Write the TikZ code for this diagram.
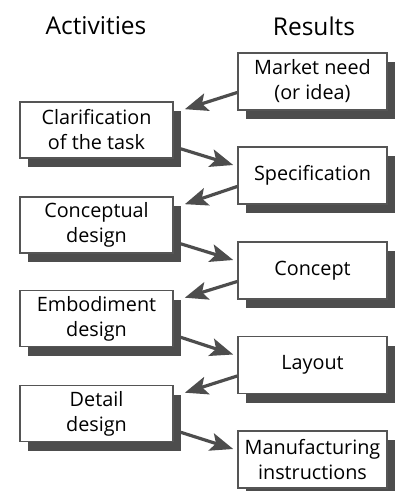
\documentclass[tikz,border=0pt]{standalone}
\usepackage{fontspec}
\setmainfont{Open Sans}
\usetikzlibrary{arrows.meta,shadows}
\definecolor{edgegray}{HTML}{555555}
\definecolor{shadegray}{HTML}{4D4D4D}
\tikzset{
  box/.style={draw=edgegray, line width=1.6pt, fill=white, align=center,
    inner sep=0pt, font=\fontsize{19.8}{25}\selectfont,
    drop shadow={shadow xshift=8pt, shadow yshift=-9pt, fill=shadegray, opacity=1}},
  actbox/.style={box, minimum width=153pt, minimum height=56pt},
  resbox/.style={box, minimum width=149pt, minimum height=57pt},
  flow/.style={draw=shadegray, line width=3.2pt,
    -{Stealth[length=23pt, width=18pt, inset=5pt]}},
  heading/.style={font=\fontsize{24.5}{28}\selectfont}
}
\begin{document}
\begin{tikzpicture}[x=1pt, y=-1pt]
  \useasboundingbox (0,0) rectangle (395,491);

  % column headings
  \node[heading] (hact) at (96,26) {Activities};
  \node[heading] (hres) at (314,26) {Results};

  % results column
  \node[resbox] (need)  at (312.5,81.5)  {Market need\\(or idea)};
  \node[resbox] (spec)  at (312.5,175.5) {Specification};
  \node[resbox] (conc)  at (312.5,270.5) {Concept};
  \node[resbox] (lay)   at (312.5,365)   {Layout};
  \node[resbox] (manu)  at (312.5,459.5) {Manufacturing\\instructions};

  % activities column
  \node[actbox] (clar)  at (96.5,130)   {Clarification\\of the task};
  \node[actbox] (cdes)  at (96.5,225)   {Conceptual\\design};
  \node[actbox] (edes)  at (96.5,318.5) {Embodiment\\design};
  \node[actbox] (ddes)  at (96.5,413.5) {Detail\\design};

  % result -> activity
  \draw[flow] ([yshift=-11pt]need.west) -- ([xshift=11pt,yshift=-8pt]clar.north east);
  \draw[flow] ([yshift=-11pt]spec.west) -- ([xshift=11pt,yshift=-8pt]cdes.north east);
  \draw[flow] ([yshift=-11pt]conc.west) -- ([xshift=11pt,yshift=-8pt]edes.north east);
  \draw[flow] ([yshift=-11pt]lay.west)  -- ([xshift=11pt,yshift=-8pt]ddes.north east);

  % activity -> result
  \draw[flow] ([xshift=7pt,yshift=10pt]clar.south east) -- ([xshift=-4pt,yshift=10.5pt]spec.west);
  \draw[flow] ([xshift=7pt,yshift=10pt]cdes.south east) -- ([xshift=-4pt,yshift=10.5pt]conc.west);
  \draw[flow] ([xshift=7pt,yshift=10pt]edes.south east) -- ([xshift=-4pt,yshift=10.5pt]lay.west);
  \draw[flow] ([xshift=7pt,yshift=10pt]ddes.south east) -- ([xshift=-4pt,yshift=10.5pt]manu.west);
\end{tikzpicture}
\end{document}
